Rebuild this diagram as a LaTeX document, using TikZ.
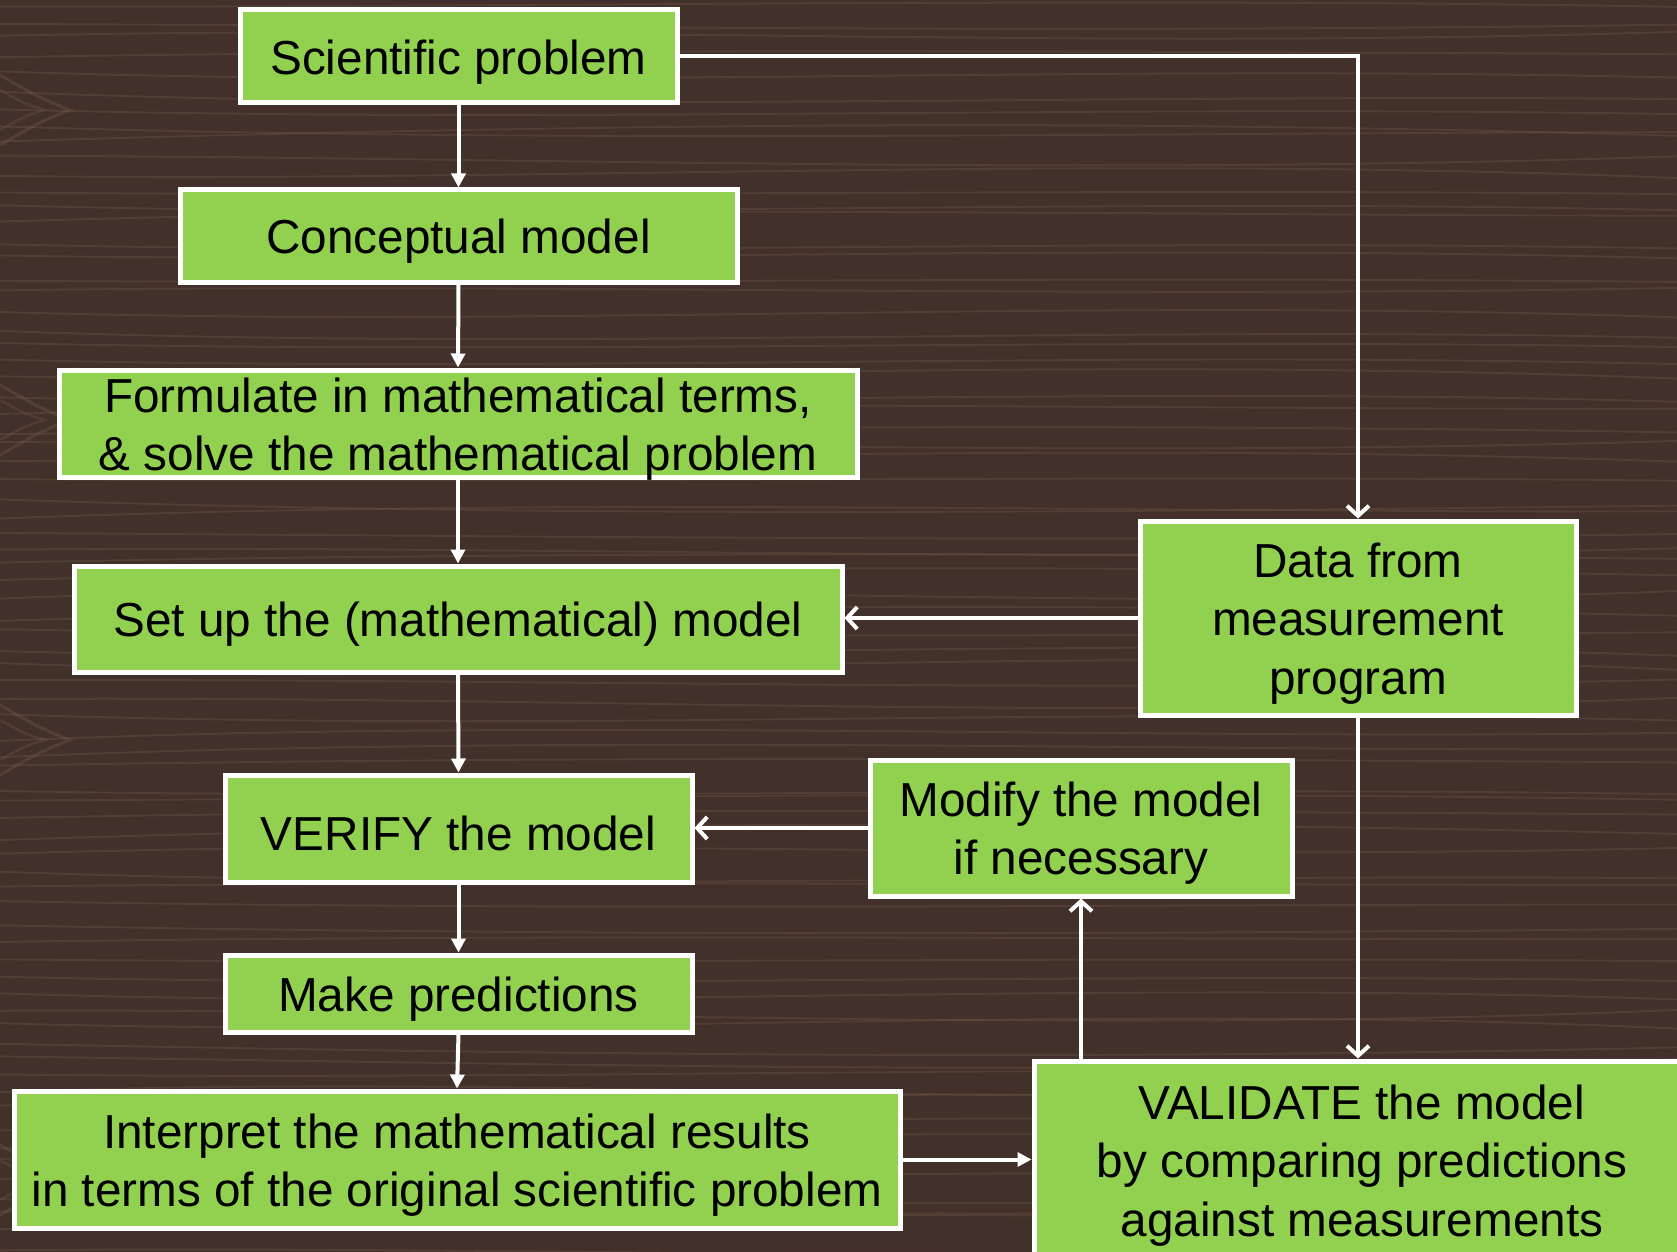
\documentclass[tikz,border=0pt]{standalone}
\usepackage{fontspec}
\setmainfont{Liberation Sans}
\usetikzlibrary{arrows.meta}
\definecolor{wood}{HTML}{42302A}
\definecolor{grainc}{HTML}{7E6450}
\definecolor{boxgreen}{HTML}{92D050}
\tikzset{
  lbl/.style={yshift=-2.7pt, align=center, inner sep=0pt, text=black,
    font=\fontsize{23.85}{29.15}\selectfont},
  box/.style={draw=white, line width=2.5pt, fill=boxgreen, inner sep=0pt,
    label={[lbl]center:{#1}}},
  flow/.style={draw=white, line width=2pt, -{Triangle[length=7pt,width=7pt]}},
  feed/.style={draw=white, line width=2pt, -{Straight Barb[length=5pt,width=11pt,line width=2pt]}},
  grain/.style={draw=grainc, line width=0.9pt, opacity=0.28},
}
\begin{document}
\begin{tikzpicture}[x=0.5pt,y=-0.5pt]
\useasboundingbox (0,0) rectangle (1677,1252);
\clip (0,0) rectangle (1677,1252);
\fill[wood] (0,0) rectangle (1677,1252);
\pgfmathsetseed{11}
\foreach \k in {0,...,75}{
  \pgfmathsetmacro\yy{\k*17+rnd*10}
  \pgfmathsetmacro\aa{rand*8}
  \pgfmathsetmacro\bb{rand*8}
  \draw[grain] (0,\yy) .. controls (550,\yy+\aa*3) and (1100,\yy-\bb*3) .. (1677,\yy+\aa);
}
\foreach \yk in {110,420,740,1180}{
  \draw[grain, line width=1.5pt, opacity=0.3] (0,\yk-35) .. controls (40,\yk-12) .. (70,\yk) .. controls (40,\yk+12) .. (0,\yk+35);
  \draw[grain, line width=1.2pt, opacity=0.25] (0,\yk-20) .. controls (25,\yk-6) .. (45,\yk) .. controls (25,\yk+6) .. (0,\yk+20);
}

\node[box={Scientific problem}, minimum width=218.5pt, minimum height=46.5pt] (sci) at (458.5,56.5) {};
\node[box={Conceptual model}, minimum width=278.5pt, minimum height=46pt] (conc) at (458.5,236) {};
\node[box={Formulate in mathematical terms,\\ \& solve the mathematical problem}, minimum width=399pt, minimum height=53.5pt] (form) at (458,423.5) {};
\node[box={Set up the (mathematical) model}, minimum width=384pt, minimum height=53pt] (setup) at (458,619) {};
\node[box={Data from\\ measurement\\ program}, minimum width=218pt, minimum height=97pt] (data) at (1358,618) {};
\node[box={VERIFY the model}, minimum width=233.5pt, minimum height=53.5pt] (verify) at (458.5,828.5) {};
\node[box={Modify the model\\ if necessary}, minimum width=211pt, minimum height=68pt] (modify) at (1081,828) {};
\node[box={Make predictions}, minimum width=233.5pt, minimum height=38.5pt] (pred) at (458.5,993.5) {};
\node[box={Interpret the mathematical results\\ in terms of the original scientific problem}, minimum width=443pt, minimum height=68.5pt] (interp) at (457,1159.5) {};
\node[box={VALIDATE the model\\ by comparing predictions\\ against measurements}, minimum width=328pt, minimum height=99pt] (valid) at (1362,1160) {};

\draw[flow] (sci.south) -- (conc.north);
\draw[flow] (conc.south) -- (form.north);
\draw[flow] (form.south) -- (setup.north);
\draw[flow] (setup.south) -- (verify.north);
\draw[flow] (verify.south) -- (pred.north);
\draw[flow] (pred.south) -- (interp.north);
\draw[flow] (interp.east) -- (interp.east -| valid.west);

\draw[feed] (sci.east) -- (sci.east -| data.north) -- (data.north);
\draw[feed] (data.west) -- (data.west -| setup.east);
\draw[feed] (data.south) -- (data.south |- valid.north);
\draw[feed] (modify.west) -- (modify.west -| verify.east);
\draw[feed] (valid.north -| modify.south) -- (modify.south);
\end{tikzpicture}
\end{document}
